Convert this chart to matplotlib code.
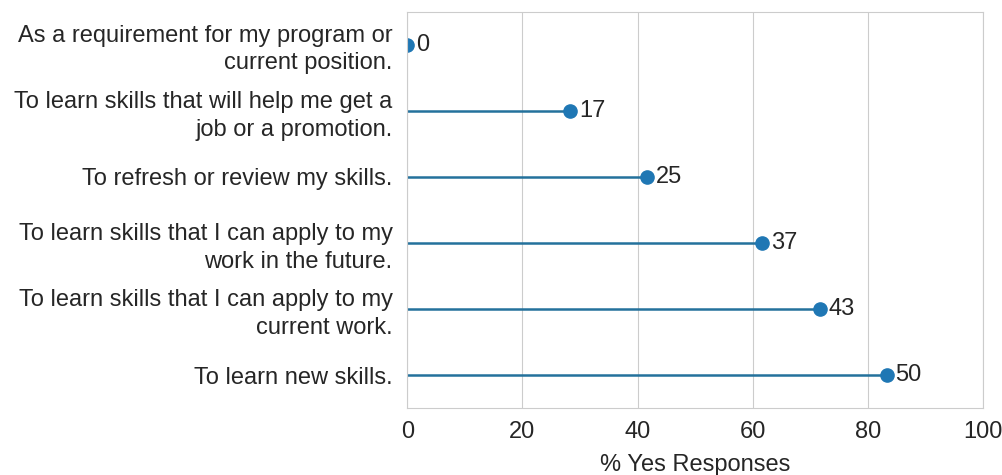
import matplotlib
matplotlib.use('Agg')
import matplotlib.pyplot as plt
import seaborn as sns

# Reasons for taking the course (bottom to top as drawn)
reasons = [
    "To learn new skills.",
    "To learn skills that I can apply to my\ncurrent work.",
    "To learn skills that I can apply to my\nwork in the future.",
    "To refresh or review my skills.",
    "To learn skills that will help me get a\njob or a promotion.",
    "As a requirement for my program or\ncurrent position.",
]
counts = [50, 43, 37, 25, 17, 0]
pct_yes = [83.3, 71.7, 61.7, 41.7, 28.3, 0.0]

sns.set_style("whitegrid")
plt.rcParams['font.family'] = ['Liberation Sans', 'DejaVu Sans']

fig = plt.figure(figsize=(10.03, 4.75), dpi=100)
ax = fig.add_axes([0.406, 0.141, 0.574, 0.834])

y = list(range(len(reasons)))
ax.hlines(y, 0, pct_yes, color='#24719c', linewidth=1.8)
ax.plot(pct_yes, y, 'o', color='#1f77b4', markersize=9.5)

for xi, yi, c in zip(pct_yes, y, counts):
    ax.text(xi + 1.5, yi, str(c), va='center', ha='left', fontsize=17, color='#262626')

ax.set_xlim(0, 100)
ax.set_ylim(-0.5, 5.5)
ax.set_yticks(y)
ax.set_yticklabels(reasons, fontsize=17, color='#262626', linespacing=1.3)
ax.tick_params(axis='y', pad=7)
ax.tick_params(axis='x', labelsize=17, colors='#262626', pad=6)
ax.grid(axis='y', visible=False)
ax.set_xlabel("% Yes Responses", fontsize=17, color='#262626', labelpad=8)

fig.savefig("out.png", dpi=100)
